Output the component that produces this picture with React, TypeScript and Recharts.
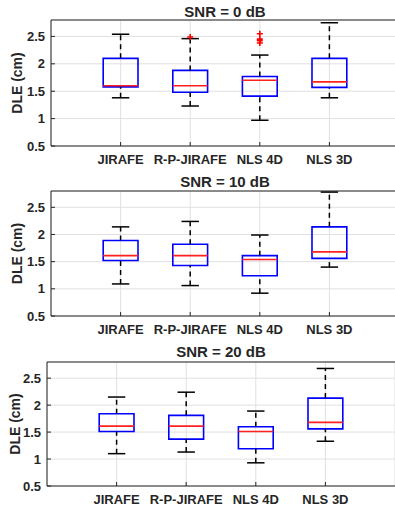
import { ComposedChart, XAxis, YAxis, CartesianGrid, ReferenceArea, ReferenceLine, Scatter } from 'recharts';

const categories = ['JIRAFE', 'R-P-JIRAFE', 'NLS 4D', 'NLS 3D'];
const yTicks = [0.5, 1, 1.5, 2, 2.5];
const xTicks = [1, 2, 3, 4];

// SNR = 0 dB
const low0 = [1.38, 1.23, 0.97, 1.38];
const q1_0 = [1.58, 1.48, 1.41, 1.57];
const med0 = [1.6, 1.6, 1.7, 1.67];
const q3_0 = [2.1, 1.88, 1.77, 2.1];
const high0 = [2.54, 2.46, 2.16, 2.75];
const out0 = [
  { group: 2, value: 2.49 },
  { group: 3, value: 2.55 },
  { group: 3, value: 2.45 },
  { group: 3, value: 2.42 },
  { group: 3, value: 2.38 },
];

// SNR = 10 dB
const low10 = [1.09, 1.06, 0.92, 1.4];
const q1_10 = [1.52, 1.43, 1.24, 1.56];
const med10 = [1.61, 1.61, 1.54, 1.68];
const q3_10 = [1.89, 1.82, 1.61, 2.14];
const high10 = [2.14, 2.24, 1.99, 2.78];
const out10: { group: number; value: number }[] = [];

// SNR = 20 dB
const low20 = [1.1, 1.13, 0.93, 1.33];
const q1_20 = [1.51, 1.37, 1.19, 1.56];
const med20 = [1.61, 1.61, 1.51, 1.68];
const q3_20 = [1.84, 1.81, 1.6, 2.13];
const high20 = [2.15, 2.24, 1.89, 2.68];
const out20: { group: number; value: number }[] = [];

const font = '"Liberation Sans", Arial, Helvetica, sans-serif';
const ink = '#262626';

const Plus = (p: any) => (
  <path
    d={`M${p.cx - 3},${p.cy}h6M${p.cx},${p.cy - 3}v6`}
    stroke="#ff0000"
    strokeWidth={1.6}
    fill="none"
  />
);

function BoxPanel({ title, low, q1, med, q3, high, outliers, top, axisW, labelX }: any) {
  const chartW = axisW + 349;
  const pts = outliers.map((o: any) => ({ x: o.group, y: o.value }));
  return (
    <div style={{ position: 'absolute', left: 0, top: top }}>
      <div
        style={{
          position: 'absolute',
          left: axisW,
          top: 4,
          width: 348,
          textAlign: 'center',
          fontFamily: font,
          fontWeight: 700,
          fontSize: 15,
          lineHeight: '15px',
          color: ink,
          whiteSpace: 'nowrap',
        }}
      >
        {title}
      </div>
      <ComposedChart
        width={chartW}
        height={170}
        data={pts}
        margin={{ top: 20 + (top === 0 ? 0 : top === 170 ? 1 : 2), right: 1, bottom: 0, left: 0 }}
      >
        <CartesianGrid stroke="#e0e0e0" />
        <XAxis
          type="number"
          dataKey="x"
          domain={[0, 5]}
          ticks={xTicks}
          interval={0}
          allowDataOverflow
          height={24}
          tickSize={-4}
          tickMargin={13}
          tickFormatter={(v: number) => categories[v - 1]}
          stroke={ink}
          tick={{ fontSize: 13, fontWeight: 700, fill: ink, fontFamily: font }}
        />
        <YAxis
          type="number"
          domain={[0.5, 2.8]}
          ticks={yTicks}
          allowDataOverflow
          width={axisW}
          tickSize={-4}
          tickMargin={10}
          stroke={ink}
          tick={{ fontSize: 13, fontWeight: 700, fill: ink, fontFamily: font }}
          label={{
            content: ({ viewBox }: any) => {
              const cy = viewBox.y + viewBox.height / 2;
              return (
                <text
                  x={labelX}
                  y={cy}
                  transform={`rotate(-90 ${labelX} ${cy})`}
                  textAnchor="middle"
                  fontFamily={font}
                  fontWeight={700}
                  fontSize={14}
                  fill={ink}
                >
                  DLE (cm)
                </text>
              );
            },
          }}
        />
        <ReferenceLine y={2.8} stroke={ink} />
        {categories.map((c, i) => {
          const x = i + 1;
          return [
            <ReferenceLine
              key={c + 'wl'}
              segment={[{ x, y: low[i] }, { x, y: q1[i] }]}
              stroke="#000"
              strokeWidth={1.5}
              strokeDasharray="5 4"
            />,
            <ReferenceLine
              key={c + 'wh'}
              segment={[{ x, y: q3[i] }, { x, y: high[i] }]}
              stroke="#000"
              strokeWidth={1.5}
              strokeDasharray="5 4"
            />,
            <ReferenceLine
              key={c + 'cl'}
              segment={[{ x: x - 0.125, y: low[i] }, { x: x + 0.125, y: low[i] }]}
              stroke="#000"
              strokeWidth={1.5}
            />,
            <ReferenceLine
              key={c + 'ch'}
              segment={[{ x: x - 0.125, y: high[i] }, { x: x + 0.125, y: high[i] }]}
              stroke="#000"
              strokeWidth={1.5}
            />,
            <ReferenceArea
              key={c + 'box'}
              x1={x - 0.25}
              x2={x + 0.25}
              y1={q1[i]}
              y2={q3[i]}
              fill="none"
              fillOpacity={0}
              stroke="#0000ff"
              strokeWidth={1.6}
              strokeOpacity={1}
            />,
            <ReferenceLine
              key={c + 'med'}
              segment={[{ x: x - 0.25, y: med[i] }, { x: x + 0.25, y: med[i] }]}
              stroke="#ff2020"
              strokeWidth={1.6}
            />,
          ];
        })}
        <Scatter dataKey="y" data={pts} shape={<Plus />} isAnimationActive={false} />
      </ComposedChart>
    </div>
  );
}

export default function App() {
  return (
    <div
      style={{
        position: 'absolute',
        left: 0,
        top: 0,
        width: 395,
        height: 510,
        overflow: 'hidden',
        background: '#fff',
      }}
    >
      <BoxPanel title="SNR = 0 dB" low={low0} q1={q1_0} med={med0} q3={q3_0} high={high0} outliers={out0} top={0} axisW={51} labelX={22} />
      <BoxPanel title="SNR = 10 dB" low={low10} q1={q1_10} med={med10} q3={q3_10} high={high10} outliers={out10} top={170} axisW={51} labelX={22} />
      <BoxPanel title="SNR = 20 dB" low={low20} q1={q1_20} med={med20} q3={q3_20} high={high20} outliers={out20} top={340} axisW={47} labelX={20} />
    </div>
  );
}
